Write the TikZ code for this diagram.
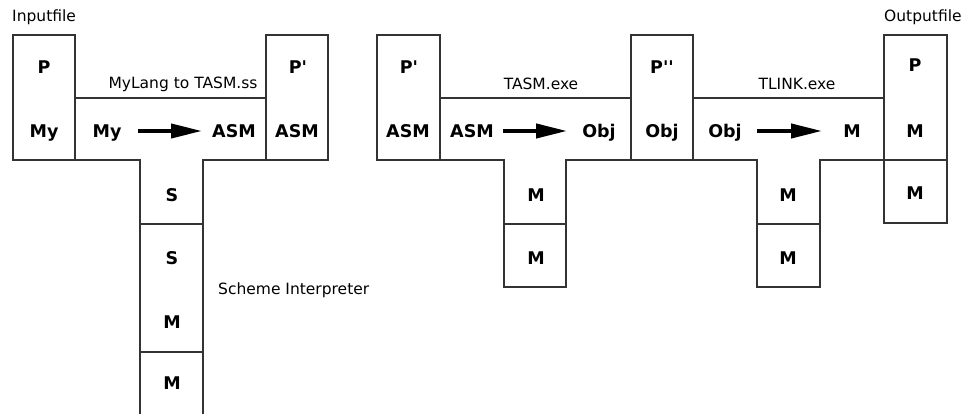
\documentclass[tikz,border=0pt]{standalone}
\usepackage{fontspec}
\setmainfont{DejaVu Sans}
\usetikzlibrary{arrows.meta}

\begin{document}
\begin{tikzpicture}[x=1pt, y=-1pt,
	frame/.style={draw=black!80, line width=1.3pt},
	tag/.style={font=\fontsize{17.5}{20}\selectfont\bfseries, inner sep=0pt, text height=12.8pt, text depth=0pt},
	caption/.style={font=\fontsize{15.5}{18}\selectfont, inner sep=0pt},
	pipe/.style={line width=4pt, -{Triangle[length=31pt,width=14pt]}}]
	\useasboundingbox (0,0) rectangle (962,414);
	% MyLang to TASM, run on the Scheme interpreter
	\draw[frame] (13,35) rectangle (75,160);
	\draw[frame] (75,98) -- (266,98) -- (266,160) -- (203,160) -- (203,224) -- (140,224) -- (140,160) -- (75,160) -- cycle;
	\draw[frame] (266,35) rectangle (328,160);
	\draw[frame] (140,224) rectangle (203,352);
	\draw[frame] (140,418) -- (140,352) -- (203,352) -- (203,418);
	\node[caption, anchor=west] (infile) at (12,17) {Inputfile};
	\node[caption] (mylang) at (183,84) {MyLang to TASM.ss};
	\node[caption, anchor=west] (scheme) at (218,290) {Scheme Interpreter};
	\node[tag] (inp) at (44,67) {P};
	\node[tag] (inmy) at (44,131) {My};
	\node[tag] (cmy) at (107,131) {My};
	\node[tag] (casm) at (234,131) {ASM};
	\node[tag] (cs) at (172,195) {S};
	\node[tag] (outp) at (298,67) {P\textquotesingle};
	\node[tag] (outasm) at (297,131) {ASM};
	\node[tag] (is) at (172,258) {S};
	\node[tag] (im) at (172,322) {M};
	\node[tag] (mm) at (172,383) {M};
	\draw[pipe, shorten <=16pt, shorten >=10pt] (cmy) -- (casm);
	% TASM.exe
	\draw[frame] (377,35) rectangle (440,160);
	\draw[frame] (440,98) -- (631,98) -- (631,160) -- (566,160) -- (566,224) -- (504,224) -- (504,160) -- (440,160) -- cycle;
	\draw[frame] (504,224) rectangle (566,287);
	\draw[frame] (631,35) rectangle (693,160);
	\node[caption] (tasm) at (541,84) {TASM.exe};
	\node[tag] (ap) at (409,67) {P\textquotesingle};
	\node[tag] (aasm) at (408,131) {ASM};
	\node[tag] (tasmin) at (472,131) {ASM};
	\node[tag] (tasmout) at (599,131) {Obj};
	\node[tag] (tm) at (536,195) {M};
	\node[tag] (tmm) at (536,258) {M};
	\node[tag] (op) at (662,67) {P\textquotesingle\textquotesingle};
	\node[tag] (oobj) at (662,131) {Obj};
	\draw[pipe, shorten <=9pt, shorten >=15pt] (tasmin) -- (tasmout);
	% TLINK.exe
	\draw[frame] (693,98) -- (884,98) -- (884,160) -- (820,160) -- (820,224) -- (757,224) -- (757,160) -- (693,160) -- cycle;
	\draw[frame] (757,224) rectangle (820,287);
	\draw[frame] (884,35) rectangle (947,160);
	\draw[frame] (884,160) rectangle (947,223);
	\node[caption] (tlink) at (797,84) {TLINK.exe};
	\node[caption, anchor=west] (outfile) at (884,17) {Outputfile};
	\node[tag] (linkin) at (725,131) {Obj};
	\node[tag] (linkout) at (852,131) {M};
	\node[tag] (lm) at (788,195) {M};
	\node[tag] (lmm) at (788,258) {M};
	\node[tag] (fp) at (915,65) {P};
	\node[tag] (fm) at (915,131) {M};
	\node[tag] (fmm) at (915,193) {M};
	\draw[pipe, shorten <=15pt, shorten >=21pt] (linkin) -- (linkout);
\end{tikzpicture}
\end{document}
